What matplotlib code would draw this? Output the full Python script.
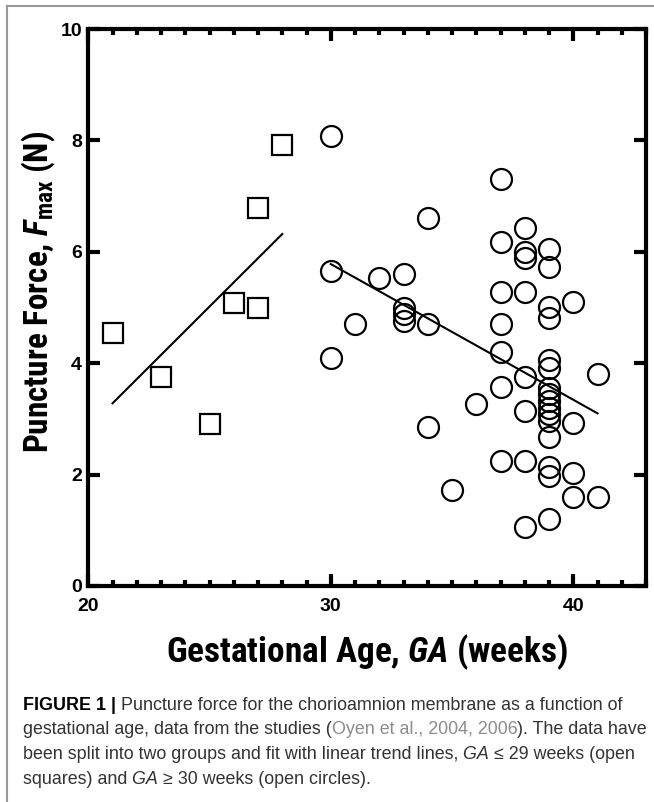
import numpy as np
import matplotlib
matplotlib.use("Agg")
import matplotlib.pyplot as plt
from matplotlib import font_manager
from matplotlib.lines import Line2D
from matplotlib.ticker import MultipleLocator

# --- values ---
# GA <= 29 weeks (open squares)
sq_ga    = [21, 23, 25, 26, 27, 27, 28]
sq_force = [4.55, 3.75, 2.91, 5.08, 5.00, 6.78, 7.91]

# GA >= 30 weeks (open circles)
circ_ga = [30, 30, 30,
           31,
           32,
           33, 33, 33, 33,
           34, 34, 34,
           35,
           36,
           37, 37, 37, 37, 37, 37, 37,
           38, 38, 38, 38, 38, 38, 38, 38,
           39, 39, 39, 39, 39, 39, 39, 39, 39, 39, 39, 39, 39, 39, 39, 39,
           40, 40, 40, 40,
           41, 41]
circ_force = [8.08, 5.65, 4.10,
              4.70,
              5.53,
              5.61, 5.00, 4.88, 4.76,
              6.60, 4.70, 2.85,
              1.72,
              3.27,
              7.31, 6.18, 5.28, 4.70, 4.21, 3.57, 2.25,
              6.42, 6.00, 5.88, 5.28, 3.75, 3.15, 2.25, 1.06,
              6.05, 5.72, 5.01, 4.82, 4.06, 3.92, 3.56, 3.45, 3.32, 3.20,
              3.08, 2.96, 2.68, 2.14, 1.97, 1.20,
              5.10, 2.93, 2.02, 1.60,
              3.80, 1.60]

# trend line end points
trend_sq_ga = [21, 28]
trend_sq_force = [3.28, 6.32]
trend_circ_ga = [30, 41]
trend_circ_force = [5.78, 3.10]

W, H = 654, 802

names = {f.name for f in font_manager.fontManager.ttflist}
cond = "Liberation Sans"
for cand in ["Liberation Sans Narrow", "Roboto Condensed", "Archivo Narrow"]:
    if cand in names:
        cond = cand
        break

plt.rcParams['font.family'] = ['Liberation Sans', 'DejaVu Sans']
plt.rcParams['mathtext.fontset'] = 'custom'
plt.rcParams['mathtext.rm'] = cond + ':bold'
plt.rcParams['mathtext.bf'] = cond + ':bold'
plt.rcParams['mathtext.it'] = cond + ':italic:bold'

fig = plt.figure(figsize=(W/100, H/100), dpi=100)
ax = fig.add_axes([88.3/W, 1-586/H, (646-88.3)/W, (586-29)/H])

ax.plot(sq_ga, sq_force, 's', ms=14.7, mfc='none', mec='black', mew=1.6)
ax.plot(circ_ga, circ_force, 'o', ms=15.1, mfc='none', mec='black', mew=1.6)
ax.plot(trend_sq_ga, trend_sq_force, '-', color='black', lw=1.5)
ax.plot(trend_circ_ga, trend_circ_force, '-', color='black', lw=1.5)

ax.set_xlim(20, 43)
ax.set_ylim(0, 10)
ax.xaxis.set_major_locator(MultipleLocator(10))
ax.xaxis.set_minor_locator(MultipleLocator(1))
ax.yaxis.set_major_locator(MultipleLocator(2))

for s in ax.spines.values():
    s.set_linewidth(3)
ax.tick_params(which='both', direction='in', top=True, right=True, width=3)
ax.tick_params(which='major', length=8.5)
ax.tick_params(which='minor', length=4.3)
ax.tick_params(axis='x', which='major', pad=8.5)
ax.tick_params(axis='y', which='major', pad=4.5)
for lab in ax.get_xticklabels() + ax.get_yticklabels():
    lab.set_fontsize(14)
    lab.set_fontweight('bold')

renderer = fig.canvas.get_renderer()

def fit_size(t, target_px, horizontal=True):
    bb = t.get_window_extent(renderer)
    size = bb.width if horizontal else bb.height
    t.set_fontsize(t.get_fontsize() * target_px / size)

xl = fig.text(367/W, 1-662/H, r"Gestational Age, $\mathit{GA}$ (weeks)",
              family=cond, fontweight='bold', fontsize=26,
              ha='center', va='baseline')
fit_size(xl, 402)
yl = fig.text(38/W, 1-292/H, r"Puncture Force, $\mathit{F}_{\mathrm{max}}$ (N)",
              family=cond, fontweight='bold', fontsize=21,
              rotation=90, ha='center', va='center')
fit_size(yl, 322, horizontal=False)

# caption
cap_size = 12.9
body = '#333333'
link = '#8c8c8c'

def put_line(y_px, parts):
    x = 23/W
    for txt, kw in parts:
        t = fig.text(x, 1-y_px/H, txt, fontsize=cap_size, ha='left',
                     va='baseline', **kw)
        x += t.get_window_extent(renderer).width / W

put_line(710, [("FIGURE 1 |", dict(color='black', fontweight='bold')),
               (" Puncture force for the chorioamnion membrane as a function of",
                dict(color=body))])
put_line(734.5, [("gestational age, data from the studies (", dict(color=body)),
                 ("Oyen et al., 2004, 2006", dict(color=link)),
                 ("). The data have", dict(color=body))])
put_line(759, [("been split into two groups and fit with linear trend lines,",
                dict(color=body)),
               (" GA", dict(color=body, style='italic')),
               (" \u2264 29 weeks (open", dict(color=body))])
put_line(783.5, [("squares) and", dict(color=body)),
                 (" GA", dict(color=body, style='italic')),
                 (" \u2265 30 weeks (open circles).", dict(color=body))])

# partial grey frame (top and left)
fig.add_artist(Line2D([7/W, 7/W], [0, 1-6/H], color='#9a9a9a', lw=1.5))
fig.add_artist(Line2D([7/W, 1], [1-6/H, 1-6/H], color='#9a9a9a', lw=1.5))

fig.savefig("out.png", dpi=100)
